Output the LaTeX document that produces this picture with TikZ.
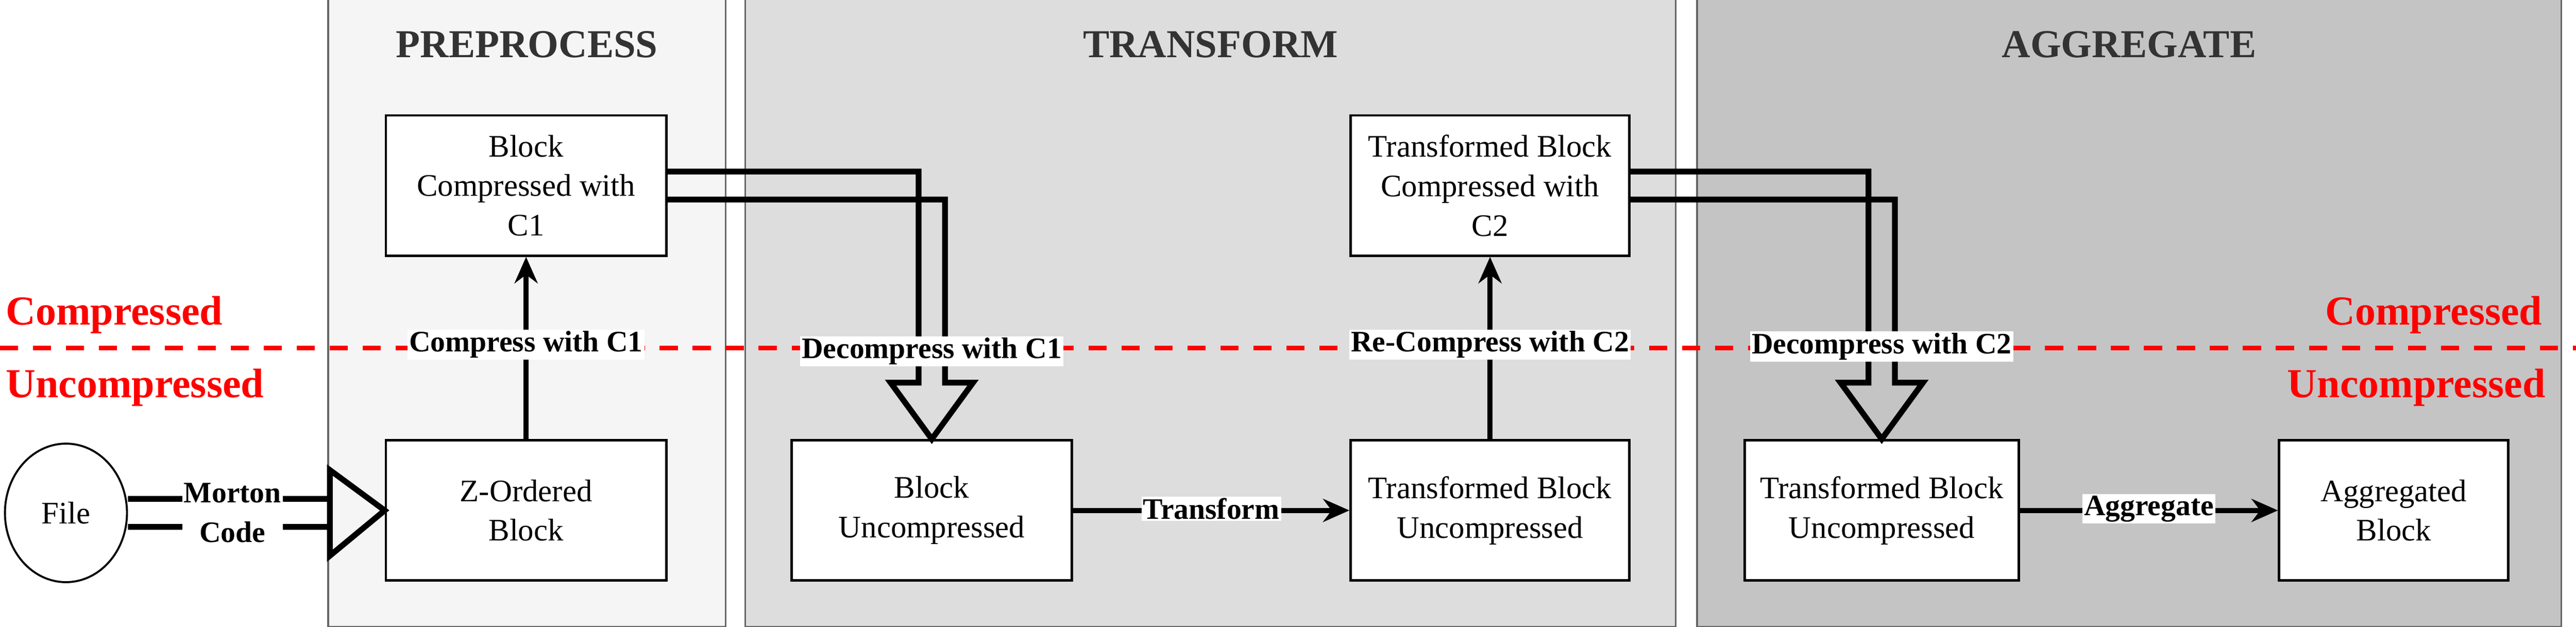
\documentclass[tikz,border=0pt]{standalone}
\usepackage{fontspec}
\setmainfont{Liberation Serif}
\usetikzlibrary{positioning,arrows.meta,shapes.geometric}
\definecolor{preBg}{HTML}{F5F5F5}
\definecolor{traBg}{HTML}{DDDDDD}
\definecolor{aggBg}{HTML}{C4C4C4}
\begin{document}
\begin{tikzpicture}[x=1pt,y=-1pt,
    panel/.style = {draw=gray!80!black, line width=1pt},
    title/.style = {font=\rmfamily\fontsize{24}{28}\selectfont\bfseries, text=black!80},
    box/.style = {draw, fill=white, line width=1.5pt, minimum width=170pt, minimum height=85pt, align=center, font=\rmfamily\fontsize{19}{24}\selectfont},
    lab/.style = {fill=white, inner sep=1pt, font=\rmfamily\fontsize{18}{20}\selectfont\bfseries},
    zone/.style = {text=red, font=\rmfamily\fontsize{25}{28}\selectfont\bfseries},
    flow/.style = {line width=3pt, -{Stealth[length=16pt,width=14pt]}},
    hollow/.style = {line width=3.5pt, line join=miter}]
	\useasboundingbox (0,0) rectangle (1562,380);
	% panels
	\draw[panel, fill=preBg] (199,-2) rectangle (440,380);
	\draw[panel, fill=traBg] (452,-2) rectangle (1016,380);
	\draw[panel, fill=aggBg] (1029,-2) rectangle (1553,380);
	\node[title] (tpre) at (319.5,27) {PREPROCESS};
	\node[title] (ttra) at (734,27) {TRANSFORM};
	\node[title] (tagg) at (1291,27) {AGGREGATE};
	% compressed / uncompressed border
	\coordinate (bl) at (0,211);
	\coordinate (br) at (1562,211);
	\draw[red, line width=3pt, dash pattern=on 11pt off 9pt] (bl) -- (br);
	\node[zone, anchor=west] (cl) at (0,191) {Compressed};
	\node[zone, anchor=west] (ul) at (0,235) {Uncompressed};
	\node[zone, anchor=east] (cr) at (1545,191) {Compressed};
	\node[zone, anchor=east] (ur) at (1547,235) {Uncompressed};
	% nodes
	\node[draw, ellipse, line width=1.2pt, minimum width=74pt, minimum height=84pt, font=\rmfamily\fontsize{19}{22}\selectfont] (file) at (40,311) {File};
	\node[box] (zord) at (319,309.5) {Z-Ordered\\Block};
	\node[box] (bc1) at (319,112.5) {Block\\Compressed with\\C1};
	\node[box] (bun) at (565,309.5) {Block\\Uncompressed};
	\node[box, minimum width=169pt] (tbu) at (903.5,309.5) {Transformed Block\\Uncompressed};
	\node[box, minimum width=169pt] (tbc2) at (903.5,112.5) {Transformed Block\\Compressed with\\C2};
	\node[box, minimum width=166pt] (atbu) at (1141,309.5) {Transformed Block\\Uncompressed};
	\node[box, minimum width=139pt] (agg) at (1451.5,309.5) {Aggregated\\Block};
	% hollow arrows
	\draw[hollow] ([yshift=-8.5pt]file.east) -| (200,285) -- (zord.west) -- (200,337) |- ([yshift=8.5pt]file.east);
	\node[lab, align=center, font=\rmfamily\fontsize{18}{24}\selectfont\bfseries] (lmor) at (141,311) {Morton\\Code};
	\draw[hollow] ([yshift=-8.5pt]bc1.east) -| ([xshift=8pt]bun.north |- 0,232) -- ([xshift=25pt]bun.north |- 0,232) -- (bun.north) -- ([xshift=-25pt]bun.north |- 0,232) -- ([xshift=-8pt]bun.north |- 0,232) |- ([yshift=8.5pt]bc1.east);
	\draw[hollow] ([yshift=-8.5pt]tbc2.east) -| ([xshift=8pt]atbu.north |- 0,232) -- ([xshift=25pt]atbu.north |- 0,232) -- (atbu.north) -- ([xshift=-25pt]atbu.north |- 0,232) -- ([xshift=-8pt]atbu.north |- 0,232) |- ([yshift=8.5pt]tbc2.east);
	\node[lab] (ldc1) at (565,213) {Decompress with C1};
	\node[lab] (ldc2) at (1141,210) {Decompress with C2};
	% plain arrows
	\draw[flow] (zord) -- (bc1) node[lab, midway, yshift=2pt] (lc1) {Compress with C1};
	\draw[flow] (tbu) -- (tbc2) node[lab, midway, yshift=2pt] (lrc2) {Re-Compress with C2};
	\draw[flow] (bun) -- (tbu) node[lab, midway, yshift=1pt] (ltra) {Transform};
	\draw[flow] (atbu) -- (agg) node[lab, midway, yshift=1pt] (lagg) {Aggregate};
\end{tikzpicture}
\end{document}
